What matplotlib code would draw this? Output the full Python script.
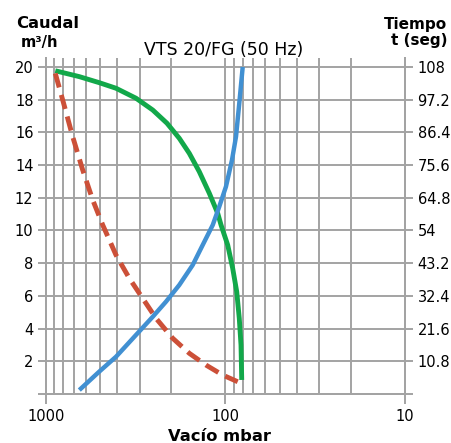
import matplotlib
matplotlib.use("Agg")
import matplotlib.pyplot as plt

# vacuum (mbar) vs flow (m3/h) - green
vac_flow = [887.7, 652.3, 504.9, 407.4, 315.2, 254.4, 211.8, 180.9, 159.1, 140.0,
            123.1, 110.5, 105.9, 97.2, 91.2, 86.6, 83.8, 81.96, 81.2]
flow = [19.77, 19.41, 19.04, 18.70, 18.09, 17.37, 16.56, 15.64, 14.72, 13.60,
        12.28, 11.05, 10.34, 9.11, 7.69, 6.26, 4.63, 3.0, 0.86]

# vacuum (mbar) vs time (s) - blue, right axis
vac_time = [652.3, 504.9, 407.4, 315.2, 254.4, 214.5, 180.9, 152.3, 134.0, 117.8,
            108.3, 99.4, 92.0, 87.4, 83.8, 80.2]
time_s = [1.3, 7.4, 12.3, 19.5, 25.5, 30.5, 36.0, 42.6, 49.2, 55.8,
          61.9, 68.5, 77.3, 85.0, 96.0, 108]

# red dashed curve (left scale)
vac_red = [887.7, 807.0, 710.1, 624.5, 549.3, 483.2, 407.4, 343.5, 289.3, 243.9,
           196.9, 159.1, 128.4, 103.7, 85.5]
red_vals = [19.61, 17.98, 15.74, 13.70, 11.87, 10.34, 8.50, 7.08, 5.85, 4.63,
            3.41, 2.49, 1.77, 1.16, 0.75]

left_ticks = [0, 2, 4, 6, 8, 10, 12, 14, 16, 18, 20]
right_ticks = [0, 10.8, 21.6, 32.4, 43.2, 54, 64.8, 75.6, 86.4, 97.2, 108]
right_labels = ["", "10.8", "21.6", "32.4", "43.2", "54", "64.8", "75.6", "86.4", "97.2", "108"]

grey = "#a3a3a3"
numsize = 10.5

fig = plt.figure(figsize=(4.52, 4.43), dpi=100)
ax = fig.add_axes([46 / 452, 49 / 443, 359 / 452, 336 / 443])
ax.set_xscale("log")
ax.set_xlim(1000, 10)
ytop = 20.55
ax.set_ylim(0, ytop)

ax.set_xticks([1000, 100, 10])
ax.set_xticklabels(["1000", "100", "10"], fontsize=numsize)
ax.set_yticks(left_ticks)
ax.set_yticklabels([""] + [str(t) for t in left_ticks[1:]], fontsize=numsize)
ax.grid(True, which="both", color=grey, linewidth=1.4)
ax.tick_params(axis="x", which="major", length=7, width=1.4, color=grey, pad=4)
ax.tick_params(axis="x", which="minor", length=0)
ax.tick_params(axis="y", length=6, width=1.4, color=grey, pad=3)
for s in ["left", "right", "bottom"]:
    ax.spines[s].set_color(grey)
    ax.spines[s].set_linewidth(1.4)
ax.spines["top"].set_visible(False)

ax.plot(vac_flow, flow, color="#12a84a", linewidth=3.5, solid_joinstyle="round",
        solid_capstyle="butt", zorder=3)
ax.plot(vac_red, red_vals, color="#cc5038", linewidth=3.5, dashes=(3, 1.6),
        dash_joinstyle="round", zorder=3)

ax2 = ax.twinx()
ax2.set_ylim(0, 108 * ytop / 20)
ax2.set_yticks(right_ticks)
ax2.set_yticklabels(right_labels, fontsize=numsize)
ax2.tick_params(axis="y", length=6, width=1.4, color=grey, pad=3)
for s in ["left", "right", "bottom"]:
    ax2.spines[s].set_color(grey)
    ax2.spines[s].set_linewidth(1.4)
ax2.spines["top"].set_visible(False)
ax2.plot(vac_time, time_s, color="#4190d2", linewidth=3.2, solid_joinstyle="round",
         solid_capstyle="butt", zorder=3)

def fy(py):
    return 1 - py / 443

fig.text(16 / 452, fy(28), "Caudal", fontsize=11.8, weight="bold", va="baseline", ha="left")
fig.text(21 / 452, fy(47), "m³/h", fontsize=10.5, weight="bold", va="baseline", ha="left")
fig.text(447 / 452, fy(29), "Tiempo", fontsize=11, weight="bold", va="baseline", ha="right")
fig.text(448 / 452, fy(45), "t (seg)", fontsize=11, weight="bold", va="baseline", ha="right")
fig.text(223.5 / 452, fy(55), "VTS 20/FG (50 Hz)", fontsize=12.5,
         va="baseline", ha="center")
fig.text(219.5 / 452, fy(441), "Vacío mbar", fontsize=11.8, weight="bold", va="baseline", ha="center")

fig.savefig("out.png", dpi=100)
